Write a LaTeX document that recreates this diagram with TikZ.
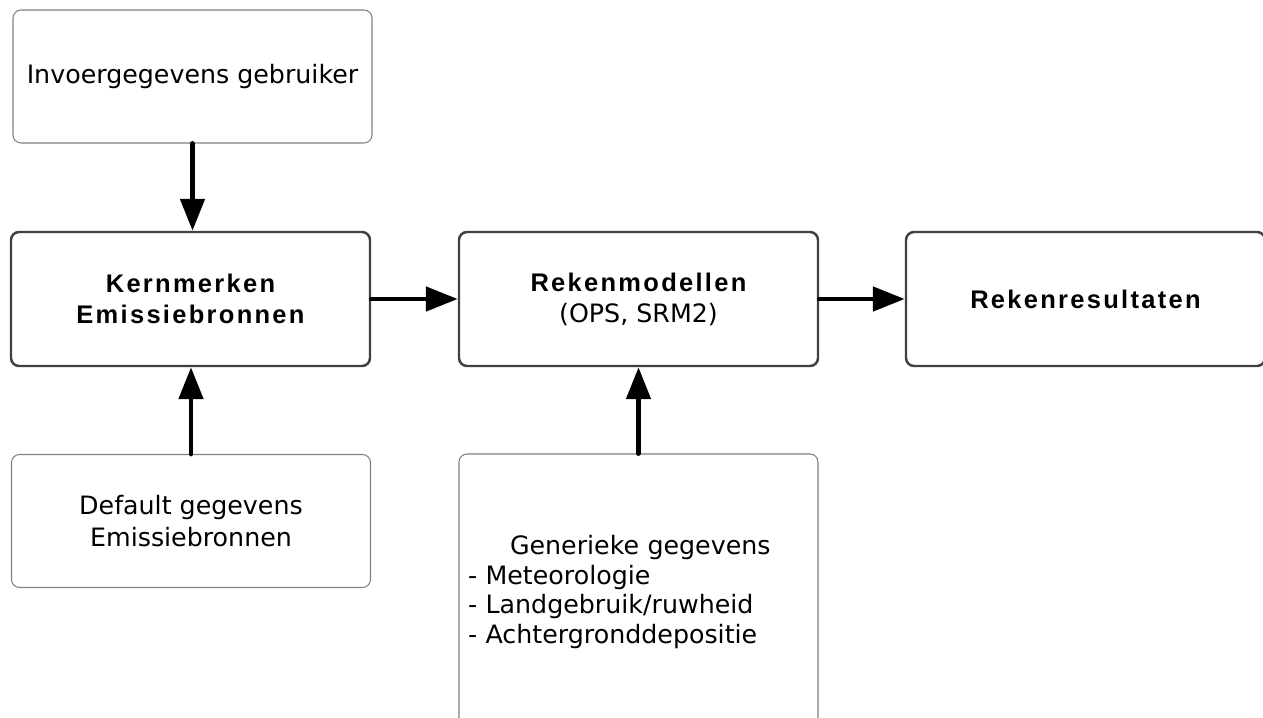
\documentclass[tikz,border=0pt]{standalone}
\usepackage{fontspec}
\setmainfont{DejaVu Sans}
\newfontfamily\headfont[LetterSpace=9]{Liberation Sans}
\usetikzlibrary{arrows.meta}

\tikzset{
  inbox/.style={draw=black!50, line width=0.6pt, rounded corners=0.16cm,
    minimum width=7.18cm, minimum height=2.66cm, align=center,
    font=\fontsize{14.4}{18}\selectfont},
  mainbox/.style={draw=black!75, line width=1.4pt, rounded corners=0.16cm,
    minimum width=7.18cm, minimum height=2.68cm, align=center,
    font=\headfont\bfseries\fontsize{14.5}{17.6}\selectfont},
  flow/.style={line width=2.8pt, line cap=round,
    -{Triangle[length=0.64cm,width=0.48cm]}}
}

\begin{document}
\begin{tikzpicture}
    \useasboundingbox (0,0) rectangle (25.26,14.34);
    \clip (0,0) rectangle (25.26,14.34);

    % user input
    \node [inbox] (invoer) at (3.85,12.81) {Invoergegevens gebruiker};

    % main chain
    \node [mainbox] (kern) at (3.81,8.36) {Kernmerken\\Emissiebronnen};
    \node [mainbox] (rek) at (12.77,8.36)
        {Rekenmodellen\\{\normalfont\fontsize{14.4}{17.6}\selectfont (OPS, SRM2)}};
    \node [mainbox] (res) at (21.71,8.36) {Rekenresultaten};

    % default and generic data
    \node [inbox] (default) at (3.82,3.92) {Default gegevens\\Emissiebronnen};
    \node [inbox, minimum height=5.52cm, text width=6.82cm, align=left,
           font=\fontsize{14.4}{17}\selectfont] (generiek) at (12.77,2.50)
        {\hspace*{0.84cm}Generieke gegevens\\- Meteorologie\\- Landgebruik/ruwheid\\- Achtergronddepositie};

    % flows
    \draw [flow] (invoer.south) -- (invoer.south |- kern.north);
    \draw [flow] (kern.east) -- (rek.west);
    \draw [flow] (rek.east) -- (res.west);
    \draw [flow] (default.north) -- (default.north |- kern.south);
    \draw [flow] (generiek.north) -- (rek.south);
\end{tikzpicture}
\end{document}
